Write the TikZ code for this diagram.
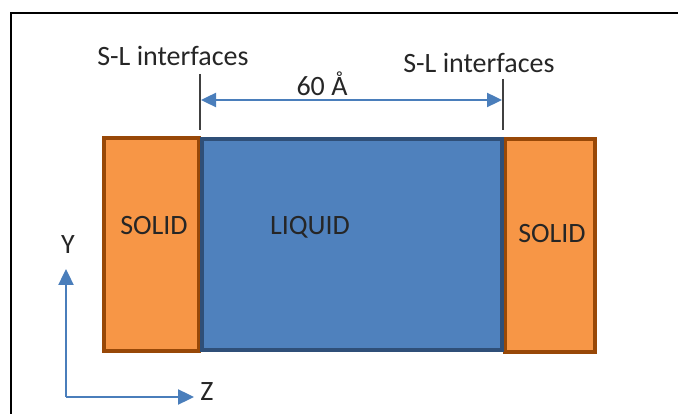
\documentclass[tikz,border=0pt]{standalone}
\usepackage{fontspec}
\setmainfont{Carlito}
\usetikzlibrary{arrows.meta}
\definecolor{solidfill}{HTML}{F79646}
\definecolor{solidedge}{HTML}{984807}
\definecolor{liqfill}{HTML}{4F81BD}
\definecolor{liqedge}{HTML}{2F4F78}
\definecolor{arrblue}{HTML}{4A7EBB}
\definecolor{tick}{HTML}{404040}
\begin{document}
\begin{tikzpicture}[x=1pt,y=-1pt,
  lbl/.style={font=\fontsize{28}{30}\selectfont, inner sep=0pt, anchor=base, text=black!85},
  solidbox/.style={draw=solidedge, fill=solidfill, line width=3.5pt},
  liqbox/.style={draw=liqedge, fill=liqfill, line width=3.5pt},
  ticklin/.style={draw=tick, line width=1.4pt},
  bluearr/.style={draw=arrblue, line width=2.4pt},
  tip/.style={-{Triangle[length=16pt,width=15pt]}}
]
\useasboundingbox (0,0) rectangle (678,414);
% frame
\draw[line width=2pt] (11,414) -- (11,13) -- (678,13);

% boxes
\draw[solidbox] (104,138) rectangle (199,351);
\draw[solidbox] (505,139) rectangle (595,352);
\draw[liqbox] (202,139) rectangle (502,350);

% interface ticks
\coordinate (lt1) at (200,74);
\coordinate (lt2) at (200,130);
\coordinate (rt1) at (503,79);
\coordinate (rt2) at (503,130);
\draw[ticklin] (lt1) -- (lt2);
\draw[ticklin] (rt1) -- (rt2);

% dimension arrow
\coordinate (da) at (201,100);
\coordinate (db) at (502,100);
\draw[bluearr, {Triangle[length=15pt,width=14pt]}-{Triangle[length=15pt,width=14pt]}] (da) -- (db);

% axes
\coordinate (o) at (66,397);
\coordinate (yt) at (66,269);
\coordinate (zt) at (194,397);
\draw[bluearr, tip] (o) -- (yt);
\draw[bluearr, tip] (o) -- (zt);

% labels
\node[lbl] (sl1) at (173,66) {S-L interfaces};
\node[lbl] (sl2) at (479,73) {S-L interfaces};
\node[lbl] (dim) at (322,96) {60 Å};
\node[lbl] (s1) at (154,235) {SOLID};
\node[lbl] (liq) at (310,235) {LIQUID};
\node[lbl] (s2) at (552,243) {SOLID};
\node[lbl] (ylab) at (68,254) {Y};
\node[lbl] (zlab) at (207,400) {Z};
\end{tikzpicture}
\end{document}
